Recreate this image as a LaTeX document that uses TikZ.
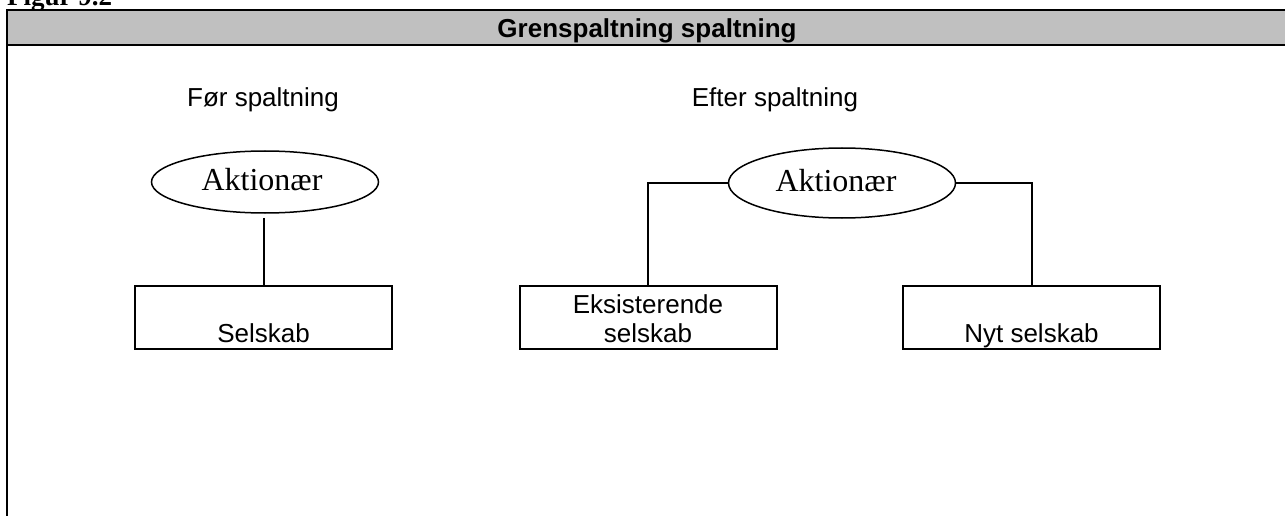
\documentclass[tikz,border=0pt]{standalone}
\usepackage{fontspec}
\setmainfont{Liberation Serif}
\newfontfamily\arialfont{Liberation Sans}
\usetikzlibrary{shapes.geometric}
\definecolor{headgray}{RGB}{192,192,192}
\begin{document}
\begin{tikzpicture}[x=1pt,y=-1pt,
  sanstext/.style={font=\arialfont\fontsize{26}{30}\selectfont, inner sep=0pt, anchor=base},
  headtext/.style={font=\arialfont\bfseries\fontsize{26}{30}\selectfont, inner sep=0pt, anchor=base},
  actorst/.style={ellipse, draw, line width=1.5pt, inner sep=0pt, minimum width=227pt},
  actortext/.style={font=\fontsize{32}{34}\selectfont, inner sep=0pt, anchor=base},
  boxst/.style={rectangle, draw, line width=2pt, minimum width=257pt, minimum height=63pt, inner sep=0pt},
  conn/.style={line width=2pt},
  frame/.style={line width=2pt}]
\useasboundingbox (0,0) rectangle (1285,516);
\fill[white] (0,0) rectangle (1285,516);
\begin{scope}
\clip (0,0) rectangle (1285,516);
\node[anchor=base west, inner sep=0pt, font=\bfseries\fontsize{27}{30}\selectfont] (fig) at (7,6) {Figur 9.2};
\fill[headgray] (7,10) rectangle (1285,45.5);
\draw[frame] (1286,10) -- (7,10) -- (7,517);
\draw[frame] (7,45.5) -- (1286,45.5);
\end{scope}
\node[headtext] (title) at (647,38) {Grenspaltning spaltning};

\node[sanstext] (before) at (263,107) {Før spaltning};
\node[sanstext] (after) at (775,107) {Efter spaltning};

\node[actorst, minimum height=62pt] (a1) at (265,182) {};
\node[actorst, minimum height=70pt] (a2) at (842,183) {};
\node[actortext] (a1t) at (262,190) {Aktionær};
\node[actortext] (a2t) at (836,191) {Aktionær};

\node[boxst] (s1) at (263.5,317.5) {};
\node[boxst] (e) at (648,317.5) {};
\node[boxst] (n) at (1031.5,317.5) {};

\node[sanstext] (s1t) at (263.5,342) {Selskab};
\node[sanstext] (et1) at (648,313) {Eksisterende};
\node[sanstext] (et2) at (648,342) {selskab};
\node[sanstext] (nt) at (1031.5,342) {Nyt selskab};

\draw[conn, shorten <=4pt] (a1.south -| s1.north) -- (s1.north);
\draw[conn] (a2.west) -| (e.north);
\draw[conn] (a2.east) -| (n.north);
\end{tikzpicture}
\end{document}
